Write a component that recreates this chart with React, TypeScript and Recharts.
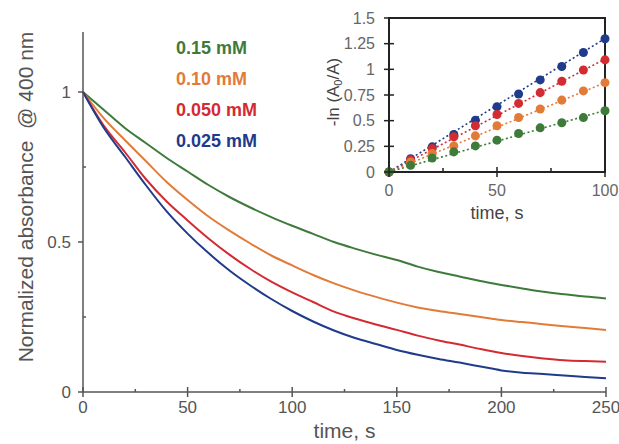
import React from 'react'
import {
  LineChart,
  Line,
  ComposedChart,
  Scatter,
  XAxis,
  YAxis,
  Legend,
  Label,
  ReferenceArea,
} from 'recharts'

// main decay curves, time in s
const mainTime = [0, 10, 20, 30, 40, 50, 60, 70, 80, 90, 100, 110, 120, 130, 140, 150, 160, 170, 180, 190, 200, 210, 220, 230, 240, 250]
const abs015 = [1, 0.94, 0.88, 0.83, 0.78, 0.735, 0.69, 0.65, 0.615, 0.583, 0.554, 0.527, 0.5, 0.478, 0.458, 0.44, 0.418, 0.4, 0.385, 0.37, 0.357, 0.345, 0.334, 0.326, 0.318, 0.312]
const abs010 = [1, 0.912, 0.84, 0.77, 0.7, 0.64, 0.585, 0.538, 0.495, 0.455, 0.422, 0.39, 0.362, 0.338, 0.317, 0.298, 0.282, 0.27, 0.26, 0.25, 0.24, 0.233, 0.226, 0.219, 0.213, 0.207]
const abs0050 = [1, 0.887, 0.8, 0.71, 0.635, 0.572, 0.512, 0.458, 0.41, 0.368, 0.332, 0.3, 0.268, 0.245, 0.225, 0.207, 0.188, 0.172, 0.158, 0.143, 0.13, 0.12, 0.112, 0.106, 0.103, 0.101]
const abs0025 = [1, 0.88, 0.785, 0.69, 0.602, 0.528, 0.463, 0.405, 0.355, 0.31, 0.27, 0.235, 0.205, 0.18, 0.16, 0.14, 0.124, 0.11, 0.098, 0.085, 0.072, 0.064, 0.06, 0.055, 0.05, 0.046]

// inset: -ln(A0/A) vs time
const insetTime = [0, 10, 20, 30, 40, 50, 60, 70, 80, 90, 100]
const ln0025 = [0, 0.13, 0.245, 0.365, 0.505, 0.636, 0.76, 0.897, 1.027, 1.164, 1.298]
const ln0050 = [0, 0.12, 0.228, 0.342, 0.45, 0.56, 0.668, 0.773, 0.884, 0.994, 1.092]
const ln010 = [0, 0.098, 0.18, 0.254, 0.352, 0.45, 0.531, 0.613, 0.7, 0.79, 0.87]
const ln015 = [0, 0.065, 0.137, 0.196, 0.254, 0.31, 0.375, 0.43, 0.48, 0.53, 0.597]
// linear fits (value at t = 0 and t = 100)
const fitTime = [0, 100]
const fit0025 = [0, 1.3]
const fit0050 = [0, 1.1]
const fit010 = [0, 0.87]
const fit015 = [0, 0.6]

const seriesNames = ['0.15 mM', '0.10 mM', '0.050 mM', '0.025 mM']
const seriesColors = ['#3e7b3b', '#e27b38', '#d42b33', '#1f3b8a']

const mainXTicks = [0, 25, 50, 75, 100, 125, 150, 175, 200, 225, 250]
const mainYTicks = [0, 0.25, 0.5, 0.75, 1]
const insetXTicks = [0, 25, 50, 75, 100]
const insetYTicks = [0, 0.25, 0.5, 0.75, 1, 1.25, 1.5]

const FONT = '"Liberation Sans", Arial, sans-serif'
const AXIS = '#555'

const mainRows = mainTime.map((t, i) => ({
  t,
  a015: abs015[i],
  a010: abs010[i],
  a0050: abs0050[i],
  a0025: abs0025[i],
}))

const pts = (ys: number[]) => insetTime.map((t, i) => ({ t, v: ys[i] }))
const fit = (ys: number[]) => fitTime.map((t, i) => ({ t, v: ys[i] }))

function MainXTick({ x, y, payload }: any) {
  const v = payload.value
  const major = v % 50 === 0
  return (
    <g>
      {major ? (
        <line x1={x} x2={x} y1={y - 5} y2={y + 5} stroke={AXIS} strokeWidth={1.5} />
      ) : (
        <line x1={x} x2={x} y1={y - 3} y2={y} stroke={AXIS} strokeWidth={1.5} />
      )}
      {major && (
        <text x={x} y={y + 21} textAnchor="middle" fontSize={17} fill={AXIS} fontFamily={FONT}>
          {v}
        </text>
      )}
    </g>
  )
}

function MainYTick({ x, y, payload }: any) {
  const v = payload.value
  const major = v === 0 || v === 0.5 || v === 1
  return (
    <g>
      {major ? (
        <line x1={x - 5} x2={x} y1={y} y2={y} stroke={AXIS} strokeWidth={1.5} />
      ) : (
        <line x1={x} x2={x + 3} y1={y} y2={y} stroke={AXIS} strokeWidth={1.5} />
      )}
      {major && (
        <text x={x - 12} y={y} dy="0.35em" textAnchor="end" fontSize={17} fill={AXIS} fontFamily={FONT}>
          {v}
        </text>
      )}
    </g>
  )
}

function InsetXTick({ x, y, payload }: any) {
  const v = payload.value
  const major = v % 50 === 0
  return (
    <g>
      {major ? (
        <line x1={x} x2={x} y1={y - 5} y2={y + 5} stroke="#222" strokeWidth={1.5} />
      ) : (
        <line x1={x} x2={x} y1={y - 4} y2={y} stroke="#222" strokeWidth={1.5} />
      )}
      {major && (
        <text x={x} y={y + 24} textAnchor="middle" fontSize={16} fill="#666" fontFamily={FONT}>
          {v}
        </text>
      )}
    </g>
  )
}

function InsetYTick({ x, y, payload }: any) {
  return (
    <g>
      <line x1={x - 5} x2={x + 5} y1={y} y2={y} stroke="#222" strokeWidth={1.5} />
      <text x={x - 14} y={y} dy="0.35em" textAnchor="end" fontSize={16} fill="#666" fontFamily={FONT}>
        {payload.value}
      </text>
    </g>
  )
}

function LegendText() {
  return (
    <div style={{ fontFamily: FONT, fontWeight: 'bold', fontSize: 18, lineHeight: '31px' }}>
      {seriesNames.map((n, i) => (
        <div key={n} style={{ color: seriesColors[i] }}>
          {n}
        </div>
      ))}
    </div>
  )
}

export default function App() {
  return (
    <div style={{ position: 'absolute', left: 0, top: 0, width: 619, height: 444, background: '#fff' }}>
      <LineChart
        width={619}
        height={444}
        data={mainRows}
        margin={{ top: 32, right: 13, bottom: 0, left: 43 }}
      >
        <XAxis
          dataKey="t"
          type="number"
          domain={[0, 250]}
          ticks={mainXTicks}
          interval={0}
          height={52}
          tickSize={0}
          tickMargin={0}
          tickLine={false}
          axisLine={{ stroke: AXIS, strokeWidth: 1.5 }}
          tick={(p: any) => <MainXTick {...p} />}
        >
          <Label
            value="time, s"
            position="insideBottom"
            offset={6}
            style={{ fontSize: 21, fill: AXIS, fontFamily: FONT }}
          />
        </XAxis>
        <YAxis
          type="number"
          domain={[0, 1.2]}
          ticks={mainYTicks}
          interval={0}
          width={40}
          tickSize={0}
          tickMargin={0}
          tickLine={false}
          axisLine={{ stroke: AXIS, strokeWidth: 1.5 }}
          tick={(p: any) => <MainYTick {...p} />}
        >
          <Label
            content={() => (
              <text
                x={25}
                y={197}
                transform="rotate(-90 25 197)"
                textAnchor="middle"
                dominantBaseline="central"
                fontSize={21}
                fill={AXIS}
                fontFamily={FONT}
                style={{ whiteSpace: 'pre' }}
              >
                {'Normalized absorbance  @ 400 nm'}
              </text>
            )}
          />
        </YAxis>
        <Legend
          layout="vertical"
          align="center"
          verticalAlign="middle"
          wrapperStyle={{ position: 'absolute', left: 176, top: 33, width: 150 }}
          content={() => <LegendText />}
        />
        <Line type="monotone" dataKey="a015" name={seriesNames[0]} stroke={seriesColors[0]} strokeWidth={2} dot={false} isAnimationActive={false} />
        <Line type="monotone" dataKey="a010" name={seriesNames[1]} stroke={seriesColors[1]} strokeWidth={2} dot={false} isAnimationActive={false} />
        <Line type="monotone" dataKey="a0050" name={seriesNames[2]} stroke={seriesColors[2]} strokeWidth={2} dot={false} isAnimationActive={false} />
        <Line type="monotone" dataKey="a0025" name={seriesNames[3]} stroke={seriesColors[3]} strokeWidth={2} dot={false} isAnimationActive={false} />
      </LineChart>

      <div style={{ position: 'absolute', left: 320, top: 0 }}>
        <ComposedChart width={299} height={225} margin={{ top: 18, right: 14, bottom: 0, left: 19 }}>
          <ReferenceArea x1={0} x2={100} y1={0} y2={1.5} fill="#fff" fillOpacity={1} stroke="#222" strokeWidth={2} ifOverflow="visible" />
          <XAxis
            dataKey="t"
            type="number"
            domain={[0, 100]}
            ticks={insetXTicks}
            interval={0}
            height={53}
            tickSize={0}
            tickMargin={0}
            tickLine={false}
            axisLine={{ stroke: '#222', strokeWidth: 2 }}
            tick={(p: any) => <InsetXTick {...p} />}
          >
            <Label value="time, s" position="insideBottom" offset={6} style={{ fontSize: 18, fill: '#444', fontFamily: FONT }} />
          </XAxis>
          <YAxis
            dataKey="v"
            type="number"
            domain={[0, 1.5]}
            ticks={insetYTicks}
            interval={0}
            width={50}
            tickSize={0}
            tickMargin={0}
            tickLine={false}
            axisLine={{ stroke: '#222', strokeWidth: 2 }}
            tick={(p: any) => <InsetYTick {...p} />}
          >
            <Label
              content={() => (
                <text
                  x={13}
                  y={92}
                  transform="rotate(-90 13 92)"
                  textAnchor="middle"
                  dominantBaseline="central"
                  fontSize={17}
                  fill="#444"
                  fontFamily={FONT}
                >
                  -ln (A
                  <tspan fontSize={11} dy={5}>0</tspan>
                  <tspan dy={-5}>/A)</tspan>
                </text>
              )}
            />
          </YAxis>
          <Line data={fit(fit0025)} dataKey="v" stroke={seriesColors[3]} strokeWidth={1.6} strokeDasharray="2 2.5" dot={false} isAnimationActive={false} />
          <Line data={fit(fit0050)} dataKey="v" stroke={seriesColors[2]} strokeWidth={1.6} strokeDasharray="2 2.5" dot={false} isAnimationActive={false} />
          <Line data={fit(fit010)} dataKey="v" stroke={seriesColors[1]} strokeWidth={1.6} strokeDasharray="2 2.5" dot={false} isAnimationActive={false} />
          <Line data={fit(fit015)} dataKey="v" stroke={seriesColors[0]} strokeWidth={1.6} strokeDasharray="2 2.5" dot={false} isAnimationActive={false} />
          <Scatter data={pts(ln0025)} dataKey="v" fill={seriesColors[3]} isAnimationActive={false} />
          <Scatter data={pts(ln0050)} dataKey="v" fill={seriesColors[2]} isAnimationActive={false} />
          <Scatter data={pts(ln010)} dataKey="v" fill={seriesColors[1]} isAnimationActive={false} />
          <Scatter data={pts(ln015)} dataKey="v" fill={seriesColors[0]} isAnimationActive={false} />
        </ComposedChart>
      </div>
    </div>
  )
}
